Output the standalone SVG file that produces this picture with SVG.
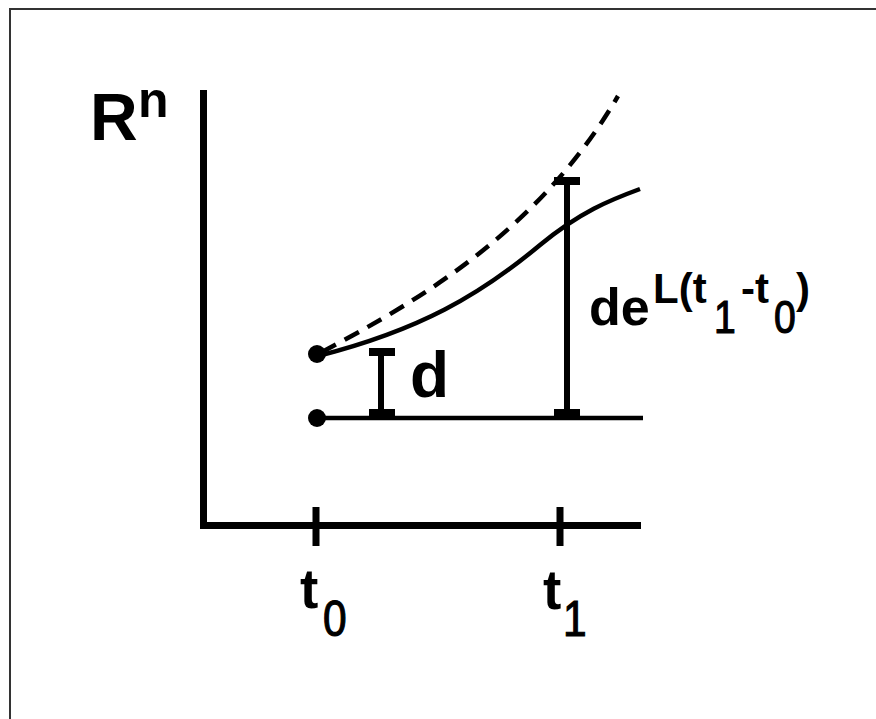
<svg xmlns="http://www.w3.org/2000/svg" width="876" height="719" viewBox="0 0 876 719">
<style>
.t{font-family:"Liberation Sans",Arial,sans-serif;font-weight:bold;fill:#000}
.s{font-family:"Liberation Sans",Arial,sans-serif;font-weight:normal;fill:#000;stroke:#000;stroke-width:1.2}
.ax{stroke:#000;stroke-width:7;fill:none;stroke-linecap:butt}
.ln{stroke:#000;stroke-width:4.5;fill:none}
.bar{stroke:#000;stroke-width:6;fill:none}
</style>
<rect width="876" height="719" fill="#fff"/>
<rect x="10" y="9" width="900" height="800" fill="none" stroke="#333" stroke-width="2"/>
<g id="axes">
<path class="ax" d="M203.5,90 V529 M200,525.5 H641"/>
<path class="ax" d="M316,507 V546 M560,507 V546" stroke-width="8"/>
</g>
<g id="curves">
<path class="ln" d="M318,356 C420,330 480,295 540,245 C580,212 610,200 640,189"/>
<path class="ln" d="M322,352 C420,300 540,230 618,96" stroke-dasharray="16 10"/>
<line class="ln" x1="317" y1="418" x2="643" y2="418"/>
</g>
<g id="dots">
<circle cx="317" cy="354" r="9"/>
<circle cx="317" cy="418" r="9"/>
</g>
<g id="bar-d">
<line class="bar" x1="381" y1="352" x2="381" y2="413"/>
<rect x="369" y="348" width="26" height="8"/>
<rect x="369" y="409" width="26" height="8"/>
</g>
<g id="bar-big">
<line class="bar" x1="567" y1="181" x2="567" y2="413"/>
<rect x="554" y="177" width="26" height="8"/>
<rect x="554" y="409" width="26" height="8"/>
</g>
<g id="labels">
<text class="t" x="90" y="140" font-size="66">R</text>
<text class="t" x="138" y="117" font-size="50">n</text>
<text class="t" x="410" y="397" font-size="64">d</text>
<text class="t" x="589" y="325" font-size="52">de</text>
<text class="t" x="653" y="303" font-size="42">L(t</text>
<text class="s" transform="translate(714,333) scale(0.85,1)" font-size="46">1</text>
<text class="t" x="741" y="303" font-size="42">-t</text>
<text class="s" transform="translate(774,333) scale(0.85,1)" font-size="46">0</text>
<text class="t" x="796" y="303" font-size="42">)</text>
<text class="t" x="300" y="608" font-size="55">t</text>
<text class="s" transform="translate(323,636) scale(0.85,1)" font-size="50">0</text>
<text class="t" x="543" y="609" font-size="55">t</text>
<text class="s" transform="translate(563,636) scale(0.85,1)" font-size="50">1</text>
</g>
</svg>
